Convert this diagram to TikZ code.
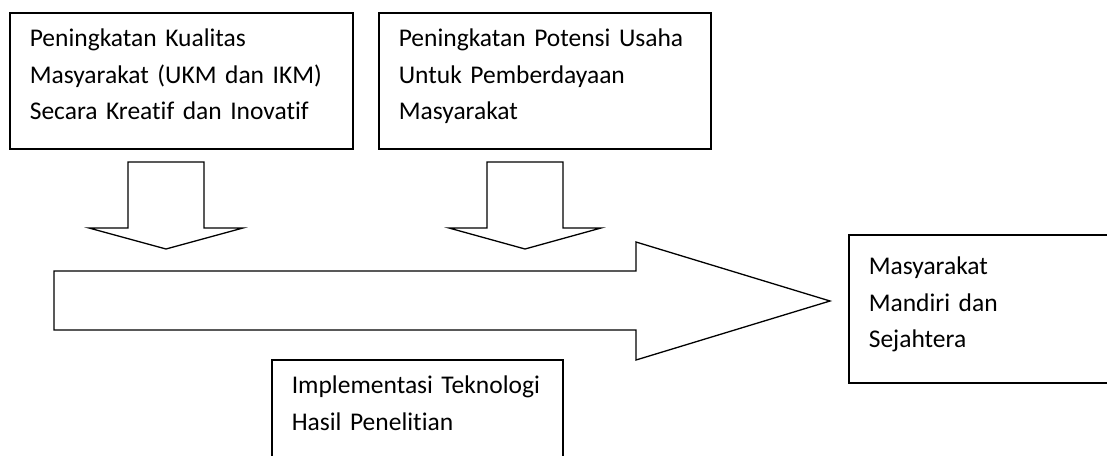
\documentclass[tikz,border=0pt]{standalone}
\usepackage{fontspec}
\setmainfont{Carlito}[Ligatures=NoCommon]
\usepackage{tikz}
\usetikzlibrary{positioning}

\newcommand{\linestrut}{\rule[-15.75pt]{0pt}{36.5pt}}

\begin{document}
\begin{tikzpicture}[x=1pt, y=-1pt, line join=miter,
                    box/.style={draw, line width=1.6pt, anchor=north west, align=left,
                      inner xsep=20pt, inner ysep=0pt, font=\fontsize{25.5}{36.5}\selectfont,
                      execute at begin node=\linestrut, execute at end node=\linestrut},
                    block/.style={draw, line width=1.3pt}]
  \useasboundingbox (0,0) rectangle (1107,455);

  \node[box, text width=303pt, minimum height=136pt] (1) at (9,12)
    {Peningkatan Kualitas\\Masyarakat (UKM dan IKM)\\Secara Kreatif dan Inovatif};
  \node[box, text width=292pt, minimum height=136pt] (2) at (378,12)
    {Peningkatan Potensi Usaha\\Untuk Pemberdayaan\\Masyarakat};
  \node[box, text width=251pt, minimum height=136pt] (3) at (271,359)
    {Implementasi Teknologi\\Hasil Penelitian\\};
  \node[box, text width=240pt, minimum height=148pt] (4) at (848,234)
    {Masyarakat\\Mandiri dan\\Sejahtera};

  % block arrows
  \draw[block] (128,162) -- (204,162) -- (204,228) -- (243,228) -- (166,249)
               -- (89,228) -- (128,228) -- cycle;
  \draw[block] (487,162) -- (563,162) -- (563,228) -- (601,228) -- (525,249)
               -- (449,228) -- (487,228) -- cycle;
  \draw[block] (54,271) -- (636,271) -- (636,242) -- (830,301) -- (636,360)
               -- (636,330) -- (54,330) -- cycle;

\end{tikzpicture}
\end{document}
